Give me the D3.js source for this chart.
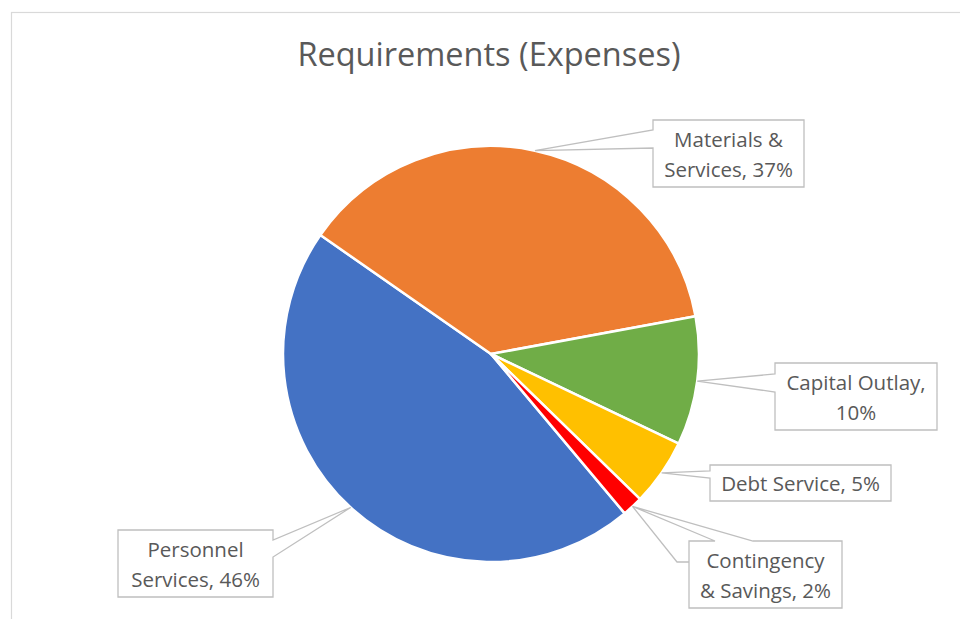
<!DOCTYPE html>
<html>
<head>
<meta charset="utf-8">
<script src="https://cdn.jsdelivr.net/npm/d3@7"></script>
<style>
  body { margin: 0; background: #fff; }
</style>
</head>
<body>
<script>
// chart data
const categories = ["Personnel Services", "Materials & Services", "Capital Outlay", "Debt Service", "Contingency & Savings"];
const values = [45.8, 37.4, 10.0, 5.2, 1.6];
// how each label text is broken into lines
const labelLines = [
    ["Personnel", "Services, {p}"],
    ["Materials &", "Services, {p}"],
    ["Capital Outlay,", "{p}"],
    ["Debt Service, {p}"],
    ["Contingency", "& Savings, {p}"]
];
const colors = ["#4472C4", "#ED7D31", "#70AD47", "#FFC000", "#FF0000"];

// canvas
const canvWidth = 960, canvHeight = 619;
const svg = d3.select("body").append("svg")
    .attr("width", canvWidth)
    .attr("height", canvHeight);

// chart area border (runs off the right and bottom)
svg.append("rect")
    .attr("x", 11.5).attr("y", 12.5)
    .attr("width", 1000).attr("height", 700)
    .attr("fill", "#fff")
    .attr("stroke", "#d9d9d9")
    .attr("stroke-width", 1.2);

const fontFamily = "'Open Sans', 'Noto Sans', sans-serif";
const textColor = "#595959";

// title
svg.append("text")
    .attr("x", 489)
    .attr("y", 66)
    .attr("font-family", fontFamily)
    .attr("font-size", "32.5px")
    .attr("fill", textColor)
    .style("text-anchor", "middle")
    .text("Requirements (Expenses)");

// pie
const cx = 491, cy = 354, radius = 208;
const g = svg.append("g")
    .attr("transform", "translate(" + cx + "," + cy + ")");

const startAngle = 140 * Math.PI / 180;
const pie = d3.pie()
    .sort(null)
    .startAngle(startAngle)
    .endAngle(startAngle + 2 * Math.PI);
const arcs = pie(values);

const arc = d3.arc().innerRadius(0).outerRadius(radius);
const tipArc = d3.arc().innerRadius(radius).outerRadius(radius);

g.selectAll("path.slice")
    .data(arcs)
    .enter()
    .append("path")
    .attr("class", "slice")
    .attr("d", arc)
    .attr("fill", (d, i) => colors[i])
    .attr("stroke", "#fff")
    .attr("stroke-width", 2.5)
    .attr("stroke-linejoin", "round");

// callout boxes: x, y, w, h, side the pointer leaves from, the two base points on that side
const boxes = [
    { x: 118, y: 530, w: 155, h: 67, side: "right", b1: 540, b2: 557 },
    { x: 653, y: 120, w: 151, h: 67, side: "left", b1: 130, b2: 148 },
    { x: 775, y: 363, w: 162, h: 67, side: "left", b1: 374, b2: 392 },
    { x: 710, y: 465, w: 181, h: 36, side: "left", b1: 471, b2: 478 },
    { x: 689, y: 541, w: 153, h: 67, side: "top", b1: 715, b2: 753, elbow: [677, 562] }
];

function calloutPath(b, tip) {
    const x0 = b.x, y0 = b.y, x1 = b.x + b.w, y1 = b.y + b.h;
    const p = d3.path();
    if (b.side === "left") {
        p.moveTo(x0, y0); p.lineTo(x1, y0); p.lineTo(x1, y1); p.lineTo(x0, y1);
        p.lineTo(x0, b.b2); p.lineTo(tip[0], tip[1]); p.lineTo(x0, b.b1);
    } else if (b.side === "right") {
        p.moveTo(x0, y0); p.lineTo(x1, y0); p.lineTo(x1, b.b1);
        p.lineTo(tip[0], tip[1]); p.lineTo(x1, b.b2);
        p.lineTo(x1, y1); p.lineTo(x0, y1);
    } else {
        p.moveTo(x0, y0); p.lineTo(b.b1, y0); p.lineTo(tip[0], tip[1]);
        p.lineTo(b.b2, y0); p.lineTo(x1, y0); p.lineTo(x1, y1); p.lineTo(x0, y1);
    }
    p.closePath();
    return p.toString();
}

const pct = d3.format(".0%");
const total = d3.sum(values);

const labels = svg.append("g").attr("id", "labels");
arcs.forEach((d, i) => {
    const b = boxes[i];
    const c = tipArc.centroid(d);
    const tip = [cx + c[0], cy + c[1]];

    if (b.elbow) {
        labels.append("polyline")
            .attr("points", [tip, b.elbow, [b.x, b.elbow[1]]].map(q => q.join(",")).join(" "))
            .attr("fill", "none")
            .attr("stroke", "#bfbfbf")
            .attr("stroke-width", 1.3);
    }

    labels.append("path")
        .attr("d", calloutPath(b, tip))
        .attr("fill", "#fff")
        .attr("stroke", "#bfbfbf")
        .attr("stroke-width", 1.3)
        .attr("stroke-linejoin", "miter");

    const lines = labelLines[i].map(s => s.replace("{p}", pct(values[i] / total)));
    const mid = b.y + b.h / 2;
    const t = labels.append("text")
        .attr("font-family", fontFamily)
        .attr("font-size", "20.5px")
        .attr("fill", textColor)
        .style("text-anchor", "middle");
    lines.forEach((s, k) => {
        t.append("tspan")
            .attr("x", b.x + b.w / 2)
            .attr("y", mid + (k - (lines.length - 1) / 2) * 30 + 8)
            .text(s);
    });
});
</script>
</body>
</html>
